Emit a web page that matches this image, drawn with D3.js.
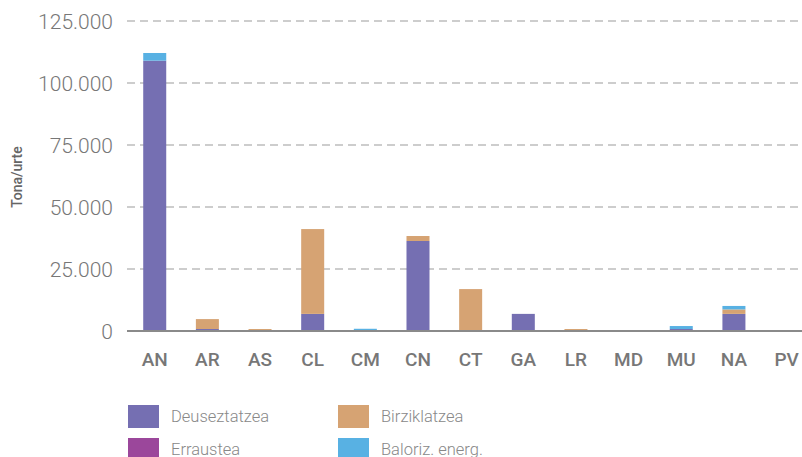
<!DOCTYPE html>
<html>
<head>
  <meta charset="utf-8">
  <script src="https://d3js.org/d3.v7.min.js"></script>
</head>
<body>
  <svg height="457" width="802"></svg>

<script>
var regions = ["AN", "AR", "AS", "CL", "CM", "CN", "CT", "GA", "LR", "MD", "MU", "NA", "PV"];
var deuseztatzea = [109000, 800, 0, 6900, 0, 36300, 0, 6900, 0, 0, 800, 6900, 0];
var birziklatzea = [0, 4000, 800, 34200, 0, 2000, 16900, 0, 800, 0, 0, 1800, 0];
var erraustea = [0, 0, 0, 0, 0, 0, 0, 0, 0, 0, 0, 0, 0];
var balorizEnerg = [3100, 0, 0, 0, 900, 0, 0, 0, 0, 0, 1200, 1400, 0];
var yTicks = [0, 25000, 50000, 75000, 100000, 125000];

var seriesNames = ["Deuseztatzea", "Birziklatzea", "Erraustea", "Baloriz. energ."];
var seriesKeys = ["deus", "birz", "errau", "balor"];
var colors = ["#756fb2", "#d6a373", "#9b479b", "#58b1e3"];

var svg = d3.select("svg");

var rows = [];
for (i = 0; i < regions.length; i++) {
  rows.push({"region": regions[i], "deus": deuseztatzea[i], "birz": birziklatzea[i], "errau": erraustea[i], "balor": balorizEnerg[i]});
}

var stacked = d3.stack().keys(seriesKeys)(rows);

var loc = d3.formatLocale({decimal: ",", thousands: ".", grouping: [3], currency: ["", ""]});
var fmt = loc.format(",");

var x = d3.scaleBand()
  .domain(regions)
  .range([128.4, 812.9])
  .paddingInner(0.563)
  .paddingOuter(0.2815);

var y = d3.scaleLinear()
  .domain([0, 125000])
  .range([331, 21]);

// grid
svg.append("g").selectAll("line")
  .data(yTicks.filter(function(d) { return d > 0; }))
  .enter().append("line")
  .attr("x1", 127).attr("x2", 802)
  .attr("y1", function(d) { return y(d); })
  .attr("y2", function(d) { return y(d); })
  .attr("stroke", "#bdbdbd")
  .attr("stroke-width", 1.5)
  .attr("stroke-dasharray", "8,5");

// y labels
svg.append("g").selectAll("text")
  .data(yTicks)
  .enter().append("text")
  .attr("x", 113)
  .attr("y", function(d) { return y(d); })
  .attr("dy", "0.36em")
  .attr("text-anchor", "end")
  .attr("font-family", "Roboto")
  .attr("font-weight", 300)
  .attr("font-size", "21px")
  .attr("fill", "#777")
  .text(function(d) { return fmt(d); });

// bars
svg.append("g").selectAll("g")
  .data(stacked)
  .enter().append("g")
  .attr("fill", function(d, i) { return colors[i]; })
  .selectAll("rect")
  .data(function(d) { return d; })
  .enter().append("rect")
  .attr("x", function(d) { return x(d.data.region); })
  .attr("width", x.bandwidth())
  .attr("y", function(d) { return y(d[1]); })
  .attr("height", function(d) { return y(d[0]) - y(d[1]); });

// baseline
svg.append("line")
  .attr("x1", 127).attr("x2", 802)
  .attr("y1", y(0)).attr("y2", y(0))
  .attr("stroke", "#8a8a8a")
  .attr("stroke-width", 2);

// x labels
var xAxis = d3.axisBottom(x).tickSize(0).tickPadding(0);
var gx = svg.append("g")
  .attr("transform", "translate(0,352)")
  .call(xAxis);
gx.select(".domain").remove();
gx.selectAll("text")
  .attr("dy", "0.71em")
  .attr("font-family", "Roboto")
  .attr("font-weight", 500)
  .attr("font-size", "19px")
  .attr("fill", "#777");

// axis title
svg.append("text")
  .attr("transform", "translate(22,177) rotate(-90)")
  .attr("text-anchor", "middle")
  .attr("font-family", "Roboto")
  .attr("font-weight", 500)
  .attr("font-size", "14px")
  .attr("fill", "#666")
  .text("Tona/urte");

// legend
var legendPos = [[128, 405], [338, 405], [128, 438], [338, 438]];
var legend = svg.append("g").selectAll("g")
  .data(seriesNames)
  .enter().append("g")
  .attr("transform", function(d, i) { return "translate(" + legendPos[i][0] + "," + legendPos[i][1] + ")"; });

legend.append("rect")
  .attr("width", 31)
  .attr("height", 23)
  .attr("fill", function(d, i) { return colors[i]; });

legend.append("text")
  .attr("x", 43)
  .attr("y", 17)
  .attr("font-family", "Roboto")
  .attr("font-weight", 300)
  .attr("font-size", "16.5px")
  .attr("fill", "#888")
  .text(function(d) { return d; });
</script>

<style>
body { margin: 0; }
svg { display: block; }
</style>
</body>
</html>
